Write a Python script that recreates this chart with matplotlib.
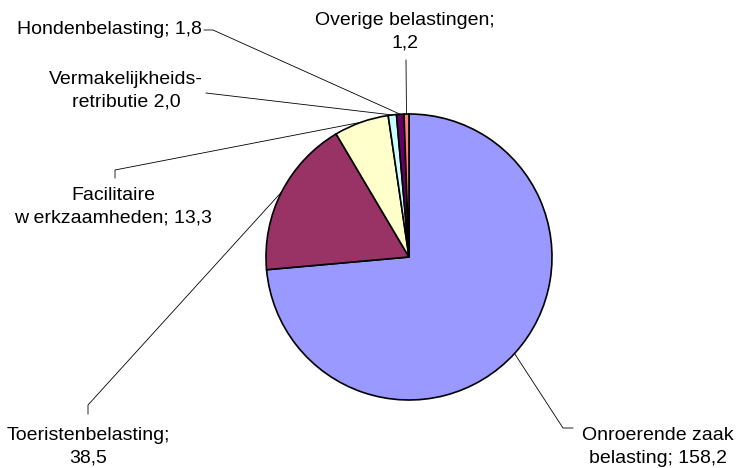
import numpy as np
import matplotlib.pyplot as plt

plt.rcParams['font.family'] = ['Liberation Sans', 'DejaVu Sans']

# data (mln euro)
values = [158.2, 38.5, 13.3, 2.0, 1.8, 1.2]
label_fmt = ["Onroerende zaak\nbelasting; {}",
             "Toeristenbelasting;\n{}",
             "Facilitaire\nw erkzaamheden; {}",
             "Vermakelijkheids-\nretributie {}",
             "Hondenbelasting; {}",
             "Overige belastingen;\n{}"]
colors = ["#9999FF", "#993366", "#FFFFCC", "#CCFFFF", "#660066", "#FF8080"]

W, H = 741, 468
cx, cy, r = 409, 257, 143   # pie centre / radius in pixels (top origin)

# label placement in pixels (top origin): text centre, leader points from label side
text_pos = [(658, 447), (88, 447), (113, 207), (126, 91), (202, 30), (405, 32)]
text_ha = ["center", "center", "center", "center", "right", "center"]
leader_pts = [[(573, 428), (563, 428)],
              [(88, 414), (88, 405)],
              [(115, 178), (115, 170)],
              [(206, 93)],
              [(204, 30), (213, 30)],
              [(406, 60)]]

fig = plt.figure(figsize=(W / 100, H / 100), dpi=100)
ax = fig.add_axes([0, 0, 1, 1])

wedges, _ = ax.pie(values, colors=colors, startangle=90, counterclock=False,
                   center=(cx, H - cy), radius=r,
                   wedgeprops=dict(edgecolor="black", linewidth=1.2))
ax.set_xlim(0, W)
ax.set_ylim(0, H)
ax.set_aspect("equal")
ax.axis("off")

for w, v, fmt, tp, ha, pts in zip(wedges, values, label_fmt, text_pos, text_ha, leader_pts):
    mid = np.deg2rad((w.theta1 + w.theta2) / 2)
    ax_x = cx + r * np.cos(mid)
    ax_y = (H - cy) + r * np.sin(mid)
    xs = [p[0] for p in pts] + [ax_x]
    ys = [H - p[1] for p in pts] + [ax_y]
    ax.plot(xs, ys, color="black", linewidth=0.6, zorder=0)
    ax.text(tp[0], H - tp[1], fmt.format(("%.1f" % v).replace(".", ",")),
            ha=ha, va="center", fontsize=14, linespacing=1.45, color="black")

fig.savefig("out.png", dpi=100)
